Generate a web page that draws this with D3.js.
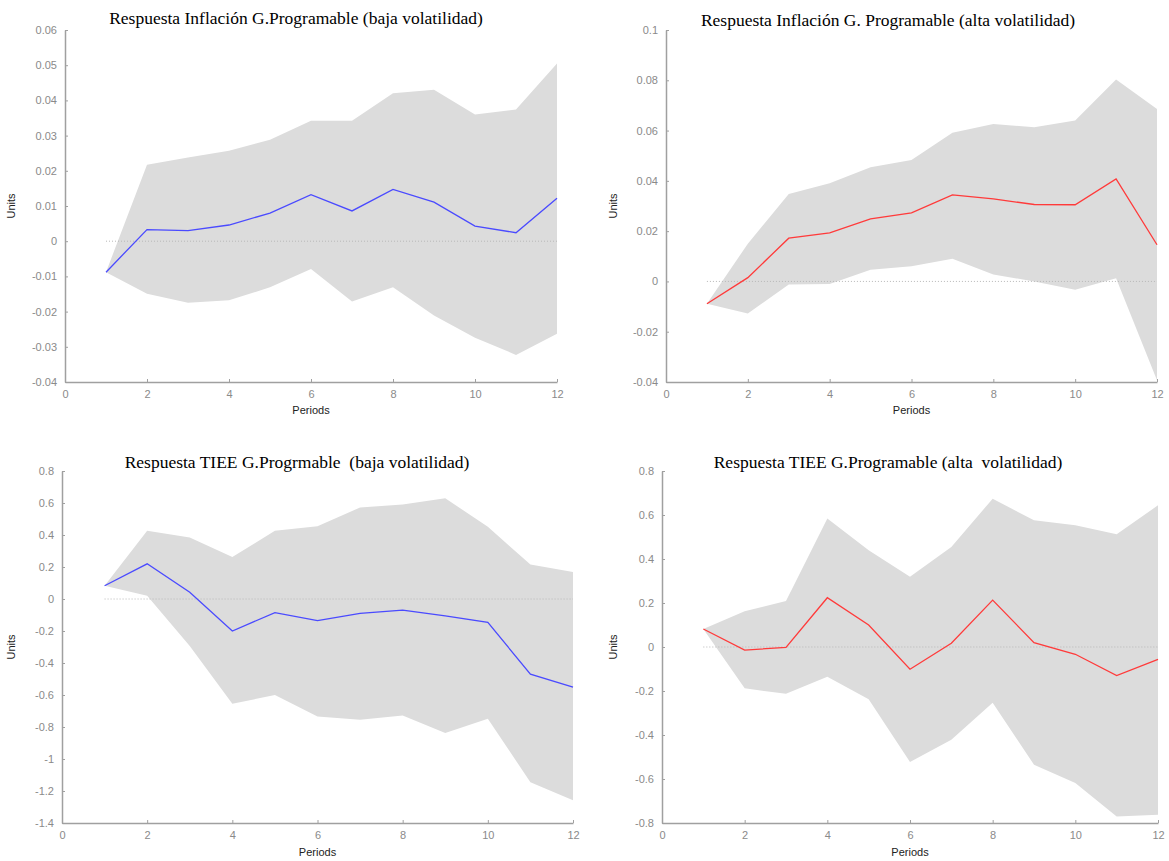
<!DOCTYPE html>
<html>
<head>
<meta charset="utf-8">
<script src="https://cdn.jsdelivr.net/npm/d3@7"></script>
<style>
  html, body { margin: 0; padding: 0; background: #fff; }
  svg { display: block; }
</style>
</head>
<body>
<svg id="chart" width="1169" height="861"></svg>
<script>
// ---------- DATA ----------
const periods = [1, 2, 3, 4, 5, 6, 7, 8, 9, 10, 11, 12];
const xTicks = [0, 2, 4, 6, 8, 10, 12];

const titles = [
  "Respuesta Inflación G.Programable (baja volatilidad)",
  "Respuesta Inflación G. Programable (alta volatilidad)",
  "Respuesta TIEE G.Progrmable\u00a0 (baja volatilidad)",
  "Respuesta TIEE G.Programable (alta\u00a0 volatilidad)"
];

// Panel 1: inflation, low volatility
const inflBajaResp  = [-0.0088, 0.0033, 0.0030, 0.0046, 0.0080, 0.0132, 0.0086, 0.0147, 0.0111, 0.0043, 0.0024, 0.0122];
const inflBajaUpper = [-0.0088, 0.0217, 0.0238, 0.0257, 0.0288, 0.0342, 0.0342, 0.0420, 0.0430, 0.0360, 0.0374, 0.0505];
const inflBajaLower = [-0.0088, -0.0149, -0.0175, -0.0168, -0.0131, -0.0079, -0.0171, -0.0131, -0.0211, -0.0274, -0.0323, -0.0263];
const inflBajaYTicks = [-0.04, -0.03, -0.02, -0.01, 0, 0.01, 0.02, 0.03, 0.04, 0.05, 0.06];

// Panel 2: inflation, high volatility
const inflAltaResp  = [-0.0089, 0.0015, 0.0172, 0.0193, 0.0249, 0.0273, 0.0344, 0.0328, 0.0306, 0.0305, 0.0408, 0.0146];
const inflAltaUpper = [-0.0089, 0.0150, 0.0348, 0.0390, 0.0454, 0.0483, 0.0591, 0.0626, 0.0613, 0.0640, 0.0803, 0.0686];
const inflAltaLower = [-0.0089, -0.0128, -0.0012, -0.0010, 0.0046, 0.0060, 0.0090, 0.0028, 0.0000, -0.0033, 0.0013, -0.0393];
const inflAltaYTicks = [-0.04, -0.02, 0, 0.02, 0.04, 0.06, 0.08, 0.1];

// Panel 3: TIEE, low volatility
const tieeBajaResp  = [0.083, 0.220, 0.042, -0.200, -0.085, -0.135, -0.090, -0.069, -0.106, -0.146, -0.470, -0.551];
const tieeBajaUpper = [0.083, 0.426, 0.385, 0.262, 0.426, 0.455, 0.572, 0.590, 0.630, 0.451, 0.216, 0.168];
const tieeBajaLower = [0.083, 0.020, -0.293, -0.655, -0.600, -0.734, -0.755, -0.728, -0.838, -0.748, -1.145, -1.258];
const tieeBajaYTicks = [-1.4, -1.2, -1, -0.8, -0.6, -0.4, -0.2, 0, 0.2, 0.4, 0.6, 0.8];

// Panel 4: TIEE, high volatility
const tieeAltaResp  = [0.082, -0.014, -0.002, 0.224, 0.100, -0.101, 0.017, 0.213, 0.020, -0.033, -0.130, -0.056];
const tieeAltaUpper = [0.082, 0.163, 0.209, 0.584, 0.440, 0.319, 0.455, 0.674, 0.576, 0.553, 0.513, 0.644];
const tieeAltaLower = [0.082, -0.188, -0.213, -0.135, -0.237, -0.523, -0.422, -0.253, -0.535, -0.618, -0.770, -0.762];
const tieeAltaYTicks = [-0.8, -0.6, -0.4, -0.2, 0, 0.2, 0.4, 0.6, 0.8];

const xLabel = "Periods";
const yLabel = "Units";

// ---------- LAYOUT / STYLE ----------
const panels = [
  { title: titles[0], resp: inflBajaResp, up: inflBajaUpper, lo: inflBajaLower, yTicks: inflBajaYTicks,
    x0: 65, x1: 557, y0: 30, y1: 382, color: "#4a4aff", titleX: 296, titleY: 24, unitsX: 15, periodsY: 414 },
  { title: titles[1], resp: inflAltaResp, up: inflAltaUpper, lo: inflAltaLower, yTicks: inflAltaYTicks,
    x0: 666, x1: 1157, y0: 30, y1: 382, color: "#ff3a3a", titleX: 888, titleY: 26, unitsX: 617, periodsY: 414 },
  { title: titles[2], resp: tieeBajaResp, up: tieeBajaUpper, lo: tieeBajaLower, yTicks: tieeBajaYTicks,
    x0: 62, x1: 573, y0: 471, y1: 823, color: "#4a4aff", titleX: 297, titleY: 468, unitsX: 15, periodsY: 856 },
  { title: titles[3], resp: tieeAltaResp, up: tieeAltaUpper, lo: tieeAltaLower, yTicks: tieeAltaYTicks,
    x0: 662, x1: 1158, y0: 471, y1: 823, color: "#ff3a3a", titleX: 888, titleY: 468, unitsX: 617, periodsY: 856 }
];

const svg = d3.select("#chart");
const axisColor = "#a0a0a0";
const tickTextColor = "#8a8a8a";
const fmt = v => String(+v.toFixed(4));

panels.forEach(p => {
  const yMin = d3.min(p.yTicks), yMax = d3.max(p.yTicks);
  const x = d3.scaleLinear().domain([0, 12]).range([p.x0, p.x1]);
  const y = d3.scaleLinear().domain([yMin, yMax]).range([p.y1, p.y0]);
  const g = svg.append("g");

  const rows = periods.map((t, i) => ({ t, r: p.resp[i], u: p.up[i], l: p.lo[i] }));

  // confidence band
  g.append("path")
    .datum(rows)
    .attr("fill", "#dcdcdc")
    .attr("stroke", "none")
    .attr("d", d3.area().x(d => x(d.t)).y0(d => y(d.l)).y1(d => y(d.u)));

  // zero reference line (dotted)
  g.append("line")
    .attr("x1", x(1)).attr("x2", x(12))
    .attr("y1", y(0)).attr("y2", y(0))
    .attr("stroke", "#b8b8b8").attr("stroke-width", 1)
    .attr("stroke-dasharray", "1,2");

  // response line
  g.append("path")
    .datum(rows)
    .attr("fill", "none")
    .attr("stroke", p.color)
    .attr("stroke-width", 1.3)
    .attr("d", d3.line().x(d => x(d.t)).y(d => y(d.r)));

  // x axis
  const xAxis = g.append("g")
    .attr("transform", `translate(0,${p.y1})`)
    .call(d3.axisBottom(x).tickValues(xTicks).tickSizeInner(-3).tickSizeOuter(0).tickPadding(8).tickFormat(d3.format("d")));
  // y axis
  const yAxis = g.append("g")
    .attr("transform", `translate(${p.x0},0)`)
    .call(d3.axisLeft(y).tickValues(p.yTicks).tickSizeInner(-3).tickSizeOuter(0).tickPadding(8).tickFormat(fmt));

  [xAxis, yAxis].forEach(a => {
    a.select(".domain").attr("stroke", axisColor).attr("stroke-width", 1.5);
    a.selectAll(".tick line").attr("stroke", axisColor);
    a.selectAll(".tick text")
      .attr("fill", tickTextColor)
      .attr("font-family", "Liberation Sans, Arial, sans-serif")
      .attr("font-size", 11);
  });

  // title
  svg.append("text")
    .attr("x", p.titleX)
    .attr("y", p.titleY)
    .attr("text-anchor", "middle")
    .attr("font-family", "Liberation Serif, Times New Roman, serif")
    .attr("font-size", 17.5)
    .attr("fill", "#000")
    .text(p.title);

  // axis labels
  svg.append("text")
    .attr("x", (p.x0 + p.x1) / 2)
    .attr("y", p.periodsY)
    .attr("text-anchor", "middle")
    .attr("font-family", "Liberation Sans, Arial, sans-serif")
    .attr("font-size", 11)
    .attr("fill", "#222")
    .text(xLabel);

  svg.append("text")
    .attr("transform", `translate(${p.unitsX},${(p.y0 + p.y1) / 2}) rotate(-90)`)
    .attr("text-anchor", "middle")
    .attr("font-family", "Liberation Sans, Arial, sans-serif")
    .attr("font-size", 11)
    .attr("fill", "#222")
    .text(yLabel);
});
</script>
</body>
</html>
